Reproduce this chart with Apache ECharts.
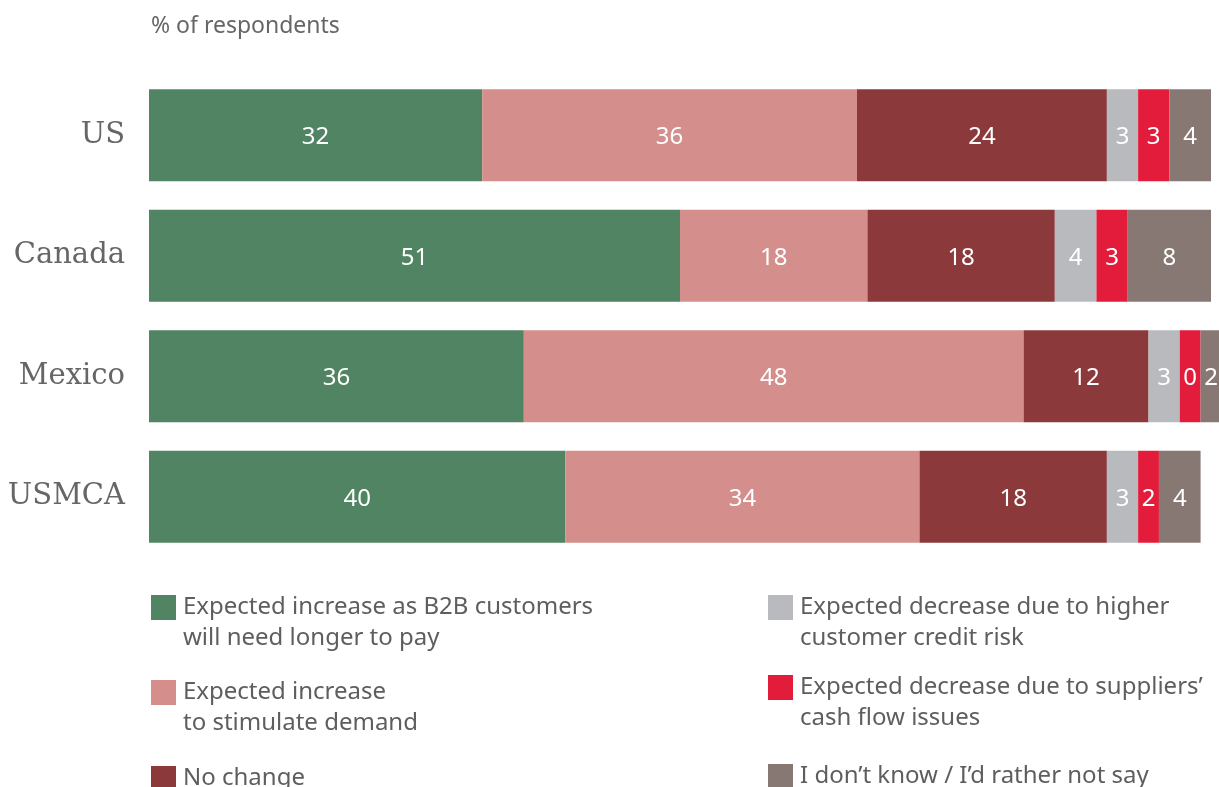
<!DOCTYPE html>
<html>
<head>
<meta charset="utf-8">
<script src="https://cdn.jsdelivr.net/npm/echarts@6/dist/echarts.min.js"></script>
<style>
  html, body { margin: 0; padding: 0; background: #ffffff; }
  #chart { width: 1219px; height: 787px; }
</style>
</head>
<body>
<div id="chart"></div>
<script>
// ---- data ----
var categories = ['US', 'Canada', 'Mexico', 'USMCA'];
var seriesNames = [
  'Expected increase as B2B customers\nwill need longer to pay',
  'Expected increase\nto stimulate demand',
  'No change',
  'Expected decrease due to higher\ncustomer credit risk',
  'Expected decrease due to suppliers\u2019\ncash flow issues',
  'I don\u2019t know / I\u2019d rather not say'
];
// bar lengths as drawn (% of respondents)
var increaseLongerPay = [32, 51, 36, 40];
var increaseStimulate = [36, 18, 48, 34];
var noChange          = [24, 18, 12, 18];
var decreaseCredit    = [3, 4, 3, 3];
var decreaseSuppliers = [3, 3, 2, 2];
var dontKnow          = [4, 8, 2, 4];
// printed labels (Mexico's supplier segment is printed as 0)
var labelsSuppliers   = ['3', '3', '0', '2'];

var colors = ['#518462', '#d48f8d', '#8c393b', '#b9babd', '#e31c3b', '#877873'];
var FONT = '"Noto Sans", "Open Sans", sans-serif';

var valueSets = [increaseLongerPay, increaseStimulate, noChange, decreaseCredit, decreaseSuppliers, dontKnow];
var series = valueSets.map(function (vals, i) {
  return {
    name: seriesNames[i],
    type: 'bar',
    stack: 'total',
    barWidth: 92,
    clip: false,
    itemStyle: { color: colors[i] },
    label: {
      show: true,
      position: 'inside',
      offset: [0, 2],
      color: '#ffffff',
      fontSize: 24,
      fontFamily: FONT,
      formatter: function (p) {
        if (i === 4) return labelsSuppliers[p.dataIndex];
        return String(p.value);
      }
    },
    data: vals
  };
});

// legend positions: [left, iconTop]
var legendPos = [[151, 595], [151, 680], [151, 766], [768, 595], [768, 675], [768, 764]];
var legends = seriesNames.map(function (n, i) {
  var twoLine = n.indexOf('\n') >= 0;
  return {
    orient: 'vertical',
    left: legendPos[i][0],
    top: legendPos[i][1] - (twoLine ? 34 : 3),
    padding: 0,
    itemWidth: 25,
    itemHeight: 25,
    icon: 'rect',
    selectedMode: false,
    data: [n],
    formatter: function (name) {
      // leading empty line keeps the first text line level with the square
      return name.indexOf('\n') >= 0 ? '\n' + name : name;
    },
    textStyle: {
      fontSize: 24,
      fontFamily: FONT,
      color: '#5e5e5e',
      lineHeight: 31,
      padding: [0, 0, 0, 2]
    }
  };
});

var chart = echarts.init(document.getElementById('chart'), null, { renderer: 'canvas' });
chart.setOption({
  animation: false,
  backgroundColor: '#ffffff',
  title: {
    text: '% of respondents',
    left: 151,
    top: 12,
    padding: 0,
    textStyle: { fontSize: 23, fontWeight: 'normal', color: '#666666', fontFamily: FONT, lineHeight: 28 }
  },
  legend: legends,
  grid: { left: 149, right: 8, top: 75, bottom: 230, containLabel: false },
  xAxis: {
    type: 'value', min: 0, max: 102, show: false
  },
  yAxis: {
    type: 'category',
    inverse: true,
    data: categories,
    axisLine: { show: false },
    axisTick: { show: false },
    axisLabel: {
      margin: 24,
      fontSize: 29,
      padding: [4, 0, 0, 0],
      color: '#666666',
      fontFamily: '"DejaVu Serif", "Liberation Serif", serif'
    }
  },
  series: series
});
</script>
</body>
</html>
